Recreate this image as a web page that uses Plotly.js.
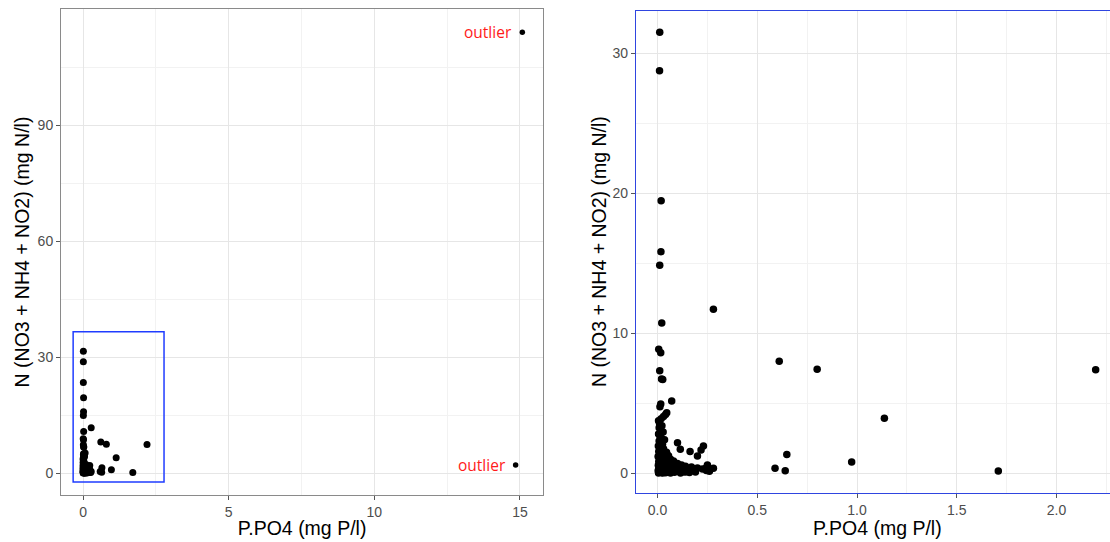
<!DOCTYPE html>
<html>
<head>
<meta charset="utf-8">
<script src="https://cdn.plot.ly/plotly-3.0.1.min.js"></script>
<style>
  html, body { margin: 0; padding: 0; overflow: hidden; background: #fff; }
  #chart { width: 1125px; height: 542px; }
</style>
</head>
<body>
<div id="chart"></div>
<script>
// ---- data ----
// main measurements, shown in both panels
const ppo4 = [0.011,0.010,0.018,0.017,0.011,0.28,0.021,0.006,0.016,0.61,0.80,0.011,0.02,0.026,0.071,0.016,0.012,0.046,0.04,0.03,
  0.005,0.018,0.01,0.022,0.008,0.015,0.028,0.005,0.012,0.02,0.035,0.008,0.016,0.025,0.004,0.012,0.03,0.02,0.006,0.045,
  0.014,0.024,0.055,0.003,0.035,0.012,0.065,0.022,0.045,0.08,0.006,0.03,0.055,0.1,0.015,0.04,0.07,0.12,0.004,0.025,
  0.09,0.14,0.05,0.17,0.011,0.035,0.075,0.11,0.2,0.28,0.006,0.06,0.13,0.16,0.02,0.045,0.09,0.15,0.185,0.245,
  0.003,0.03,0.07,0.105,0.13,0.012,0.05,0.085,0.16,0.022,0.04,0.065,0.005,0.115,0.14,0.19,0.025,0.1,0.114,0.163,
  0.23,0.218,0.20,0.25,0.245,0.225,0.26,0.648,0.589,0.64,2.196,1.137,0.973,1.708];
const nitrogen = [31.5,28.76,19.47,15.83,14.86,11.71,10.74,8.86,8.61,8.0,7.43,7.33,6.74,6.70,5.16,4.95,4.75,4.33,4.2,4.05,
  3.76,3.9,3.55,3.4,3.25,3.1,2.95,2.8,2.65,2.5,2.4,2.3,2.15,2.05,1.95,1.85,1.75,1.65,1.55,1.5,
  1.4,1.3,1.25,1.2,1.1,1.05,1.0,0.95,0.9,0.88,0.85,0.8,0.75,0.7,0.7,0.65,0.62,0.6,0.58,0.55,
  0.52,0.5,0.48,0.45,0.42,0.4,0.4,0.38,0.38,0.36,0.32,0.3,0.3,0.28,0.25,0.22,0.22,0.2,0.2,0.2,
  0.18,0.15,0.14,0.13,0.12,0.1,0.08,0.07,0.06,0.05,0.04,0.03,0.03,0.02,0.1,0.1,0.02,2.19,1.71,1.55,
  1.95,1.66,1.24,0.59,0.42,0.3,0.15,1.35,0.36,0.19,7.4,3.93,0.81,0.16];
// point seen only in the overview panel
const overviewOnlyP = [0.01];
const overviewOnlyN = [23.4];
// outliers
const outlierP = [15.08, 14.85];
const outlierN = [114.0, 2.07];
const outlierLabels = ['outlier', 'outlier'];
// zoom rectangle drawn on the overview (data units)
const zoomBox = {x0: -0.34, x1: 2.78, y0: -2.3, y1: 36.5};

// ---- layout geometry ----
const W = 1125, H = 542;
const px = (a, b) => [a / W, b / W];
const py = (top, bottom) => [1 - bottom / H, 1 - top / H];

const tickFont = {family: 'Liberation Sans, Arial, sans-serif', size: 14, color: '#4d4d4d'};
const titleFont = {family: 'Liberation Sans, Arial, sans-serif', size: 19.5, color: '#000'};
const grid = '#e6e6e6', minorGrid = '#f2f2f2';

function axisBase(extra) {
  return Object.assign({
    ticks: 'outside', ticklen: 4, tickwidth: 1, tickcolor: '#555',
    showline: true, mirror: true, linewidth: 1.2,
    showgrid: true, gridcolor: grid, gridwidth: 1,
    zeroline: false, tickfont: tickFont, fixedrange: true
  }, extra);
}

const traces = [
  {x: ppo4, y: nitrogen, xaxis: 'x', yaxis: 'y', type: 'scatter', mode: 'markers',
   marker: {color: '#000', size: 7}, hoverinfo: 'skip', showlegend: false},
  {x: overviewOnlyP, y: overviewOnlyN, xaxis: 'x', yaxis: 'y', type: 'scatter', mode: 'markers',
   marker: {color: '#000', size: 7}, hoverinfo: 'skip', showlegend: false},
  {x: outlierP, y: outlierN, xaxis: 'x', yaxis: 'y', type: 'scatter', mode: 'markers',
   marker: {color: '#000', size: 5.5}, hoverinfo: 'skip', showlegend: false},
  {x: ppo4, y: nitrogen, xaxis: 'x2', yaxis: 'y2', type: 'scatter', mode: 'markers',
   marker: {color: '#000', size: 7.5}, hoverinfo: 'skip', showlegend: false}
];

const layout = {
  width: W, height: H,
  margin: {l: 0, r: 0, t: 0, b: 0},
  paper_bgcolor: '#fff', plot_bgcolor: '#fff',
  showlegend: false,
  xaxis: axisBase({
    domain: px(61.2, 543), range: [-0.75, 15.79], anchor: 'y',
    tickvals: [0, 5, 10, 15], linecolor: '#8a8a8a',
    minor: {tickvals: [2.5, 7.5, 12.5], showgrid: true, gridcolor: minorGrid, gridwidth: 1, ticks: ''},
    title: {text: 'P.PO4 (mg P/l)', font: titleFont, standoff: 2}
  }),
  yaxis: axisBase({
    domain: py(9, 495), range: [-5.69, 120.0], anchor: 'x',
    tickvals: [0, 30, 60, 90], linecolor: '#8a8a8a',
    minor: {tickvals: [15, 45, 75, 105], showgrid: true, gridcolor: minorGrid, gridwidth: 1, ticks: ''},
    title: {text: 'N (NO3 + NH4 + NO2) (mg N/l)', font: titleFont, standoff: 2}
  }),
  xaxis2: axisBase({
    domain: px(636, 1118.8), range: [-0.108, 2.312], anchor: 'y2',
    tickvals: [0, 0.5, 1, 1.5, 2], ticktext: ['0.0', '0.5', '1.0', '1.5', '2.0'],
    linecolor: '#2f45e0',
    minor: {tickvals: [0.25, 0.75, 1.25, 1.75, 2.25], showgrid: true, gridcolor: minorGrid, gridwidth: 1, ticks: ''},
    title: {text: 'P.PO4 (mg P/l)', font: titleFont, standoff: 2}
  }),
  yaxis2: axisBase({
    domain: py(10.7, 492.5), range: [-1.37, 33.04], anchor: 'x2',
    tickvals: [0, 10, 20, 30], linecolor: '#2f45e0',
    minor: {tickvals: [5, 15, 25], showgrid: true, gridcolor: minorGrid, gridwidth: 1, ticks: ''},
    title: {text: 'N (NO3 + NH4 + NO2) (mg N/l)', font: titleFont, standoff: 0}
  }),
  shapes: [
    {type: 'rect', xref: 'x', yref: 'y', x0: zoomBox.x0, x1: zoomBox.x1, y0: zoomBox.y0, y1: zoomBox.y1,
     line: {color: '#1f3cff', width: 1.5}, fillcolor: 'rgba(0,0,0,0)', layer: 'above'}
  ],
  annotations: outlierP.map((p, i) => ({
    x: p, y: outlierN[i], xref: 'x', yref: 'y', text: outlierLabels[i],
    showarrow: false, xanchor: 'right', yanchor: 'middle', xshift: -8,
    font: {family: 'Open Sans, Noto Sans, sans-serif', size: 15.5, color: '#ff1a1a'}
  }))
};

Plotly.newPlot('chart', traces, layout, {displayModeBar: false, staticPlot: true});
</script>
</body>
</html>
